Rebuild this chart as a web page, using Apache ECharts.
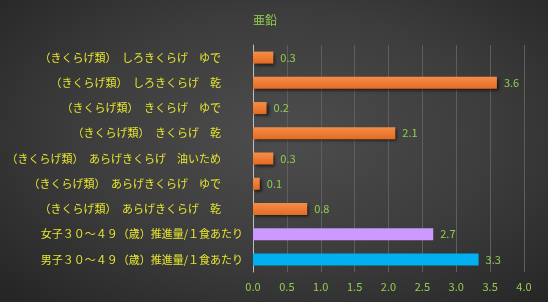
<!DOCTYPE html>
<html><head><meta charset="utf-8">
<script src="https://cdn.jsdelivr.net/npm/echarts@6/dist/echarts.min.js"></script>
<style>
html,body{margin:0;padding:0;}
#c{width:548px;height:302px;background:radial-gradient(ellipse 70% 75% at 52% 45%, #4d4d4d 0%, #3c3c3c 55%, #262626 100%);}
</style></head>
<body><div id="c"></div>
<script>
const titleText = '亜鉛';
const categories = [
  '（きくらげ類）　しろきくらげ　ゆで　　',
  '（きくらげ類）　しろきくらげ　乾　　',
  '（きくらげ類）　きくらげ　ゆで　　',
  '（きくらげ類）　きくらげ　乾　　',
  '（きくらげ類）　あらげきくらげ　油いため　　',
  '（きくらげ類）　あらげきくらげ　ゆで　　',
  '（きくらげ類）　あらげきくらげ　乾　　',
  '女子３０～４９（歳）推進量/１食あたり',
  '男子３０～４９（歳）推進量/１食あたり'
];
const values = [0.3, 3.6, 0.2, 2.1, 0.3, 0.1, 0.8, 2.66, 3.33];
const xTicks = ['0.0','0.5','1.0','1.5','2.0','2.5','3.0','3.5','4.0'];

const orange = {type:'linear',x:0,y:0,x2:0,y2:1,colorStops:[{offset:0,color:'#f68d47'},{offset:1,color:'#e36b22'}]};
function styleFor(i){
  if (i === 7) return {color:'#cc99ff'};
  if (i === 8) return {color:'#00b0f0'};
  return {color:orange, shadowColor:'rgba(0,0,0,0.6)', shadowBlur:3, shadowOffsetX:2, shadowOffsetY:2};
}
const chart = echarts.init(document.getElementById('c'), null, {renderer:'canvas'});
chart.setOption({
  backgroundColor:'transparent',
  animation:false,
  title:{text:titleText,left:248,top:9,textStyle:{color:'#92d050',fontSize:12,fontWeight:'normal',fontFamily:'Noto Sans CJK JP'}},
  grid:{left:253,right:24,top:45,bottom:30,containLabel:false},
  xAxis:{type:'value',min:0,max:4,interval:0.5,
    axisLine:{show:false},axisTick:{show:false},
    axisLabel:{color:'#92d050',fontSize:11,fontFamily:'Noto Sans CJK JP',margin:9,formatter:(v)=>xTicks[Math.round(v*2)]},
    splitLine:{show:true,lineStyle:{color:'#5e5e5e',width:1}}},
  yAxis:{type:'category',data:categories,inverse:true,
    axisLine:{show:true,lineStyle:{color:'#bfbfbf',width:1}},axisTick:{show:false},
    axisLabel:{color:'#e6e62e',fontSize:11,fontFamily:'Noto Sans CJK JP',margin:10}},
  series:[{type:'bar',barWidth:12,
    data:values.map((v,i)=>({value:v,itemStyle:styleFor(i)})),
    label:{show:true,position:'right',distance:7,color:'#92d050',fontSize:11,fontFamily:'Noto Sans CJK JP',formatter:(p)=>p.value.toFixed(1)}}]
});
</script></body></html>
